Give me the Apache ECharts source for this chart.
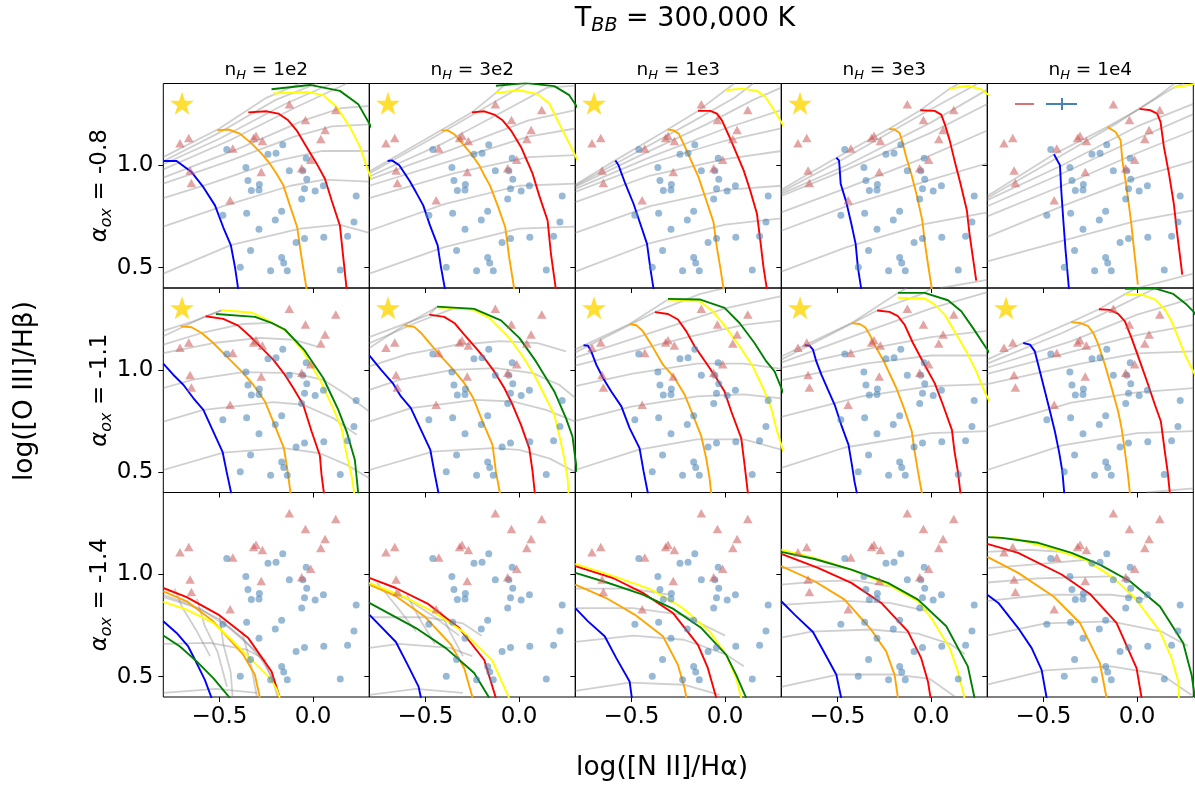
<!DOCTYPE html>
<html>
<head>
<meta charset="utf-8">
<script src="https://cdn.jsdelivr.net/npm/echarts@6/dist/echarts.min.js"></script>
<style>
  html, body { margin: 0; padding: 0; background: #fff; }
  #main { width: 1195px; height: 788px; }
</style>
</head>
<body>
<div id="main"></div>
<script>
// observed points, same in every panel
const circles = [
  [-0.461, 1.077], [-0.162, 1.100], [-0.241, 1.054], [-0.198, 1.059], [-0.037, 1.035],
  [-0.359, 0.989], [-0.127, 0.973], [-0.055, 0.973], [-0.034, 0.932], [-0.348, 0.926],
  [-0.287, 0.906], [-0.330, 0.877], [-0.289, 0.879], [-0.046, 0.885], [0.011, 0.874],
  [0.055, 0.900], [0.230, 0.850], [-0.061, 0.835], [-0.482, 0.756], [-0.355, 0.765],
  [-0.168, 0.775], [-0.202, 0.733], [0.218, 0.723], [-0.289, 0.687], [0.184, 0.653],
  [-0.091, 0.622], [-0.046, 0.642], [0.057, 0.648], [-0.334, 0.583], [-0.168, 0.549],
  [-0.157, 0.522], [-0.389, 0.501], [-0.227, 0.484], [-0.138, 0.484], [0.145, 0.488]
];
const triangles = [
  [-0.127, 1.298], [0.121, 1.270], [-0.041, 1.221], [0.064, 1.173], [0.041, 1.129],
  [-0.711, 1.108], [-0.664, 1.134], [-0.305, 1.144], [-0.318, 1.134], [-0.271, 1.119],
  [-0.429, 1.082], [-0.013, 1.027], [-0.061, 0.986], [-0.657, 0.975], [-0.277, 0.967],
  [-0.650, 0.913], [-0.443, 0.829]
];
const starPoint = [[-0.70, 1.303]];

const xTicks = [-0.5, 0.0];
const yTicks = [0.5, 1.0];
const colTitles = ['1e2', '3e2', '1e3', '3e3', '1e4'];
const rowTitles = ['-0.8', '-1.1', '-1.4'];

// ---- row 1 (alpha_ox = -0.8)
const gray11 = [
  [[-0.8, 1.04], [-0.5, 1.18], [-0.25, 1.33], [-0.07, 1.40]],
  [[-0.8, 1.02], [-0.5, 1.16], [-0.2, 1.32], [0.02, 1.40]],
  [[-0.8, 1.005], [-0.5, 1.13], [-0.15, 1.30], [0.1, 1.40]],
  [[-0.8, 0.98], [-0.45, 1.12], [-0.1, 1.28], [0.18, 1.40]],
  [[-0.8, 0.94], [-0.4, 1.08], [-0.05, 1.22], [0.15, 1.28], [0.3, 1.29]],
  [[-0.8, 0.91], [-0.45, 1.02], [-0.1, 1.14], [0.1, 1.19], [0.3, 1.20]],
  [[-0.8, 0.84], [-0.55, 0.91], [-0.2, 1.02], [0.05, 1.07], [0.3, 1.07]],
  [[-0.8, 0.70], [-0.48, 0.80], [-0.12, 0.90], [0.06, 0.93], [0.3, 0.92]],
  [[-0.8, 0.47], [-0.44, 0.61], [-0.07, 0.69], [0.14, 0.71], [0.3, 0.67]]
];
const blue11 = [[-0.8, 1.021], [-0.729, 1.021], [-0.649, 0.967], [-0.586, 0.893], [-0.524, 0.804], [-0.48, 0.697], [-0.439, 0.608], [-0.417, 0.501], [-0.4, 0.395]];
const orange11 = [[-0.512, 1.171], [-0.453, 1.175], [-0.391, 1.155], [-0.328, 1.106], [-0.275, 1.057], [-0.231, 1.008], [-0.195, 0.959], [-0.159, 0.902], [-0.124, 0.804], [-0.085, 0.697], [-0.062, 0.55], [-0.035, 0.395]];
const red11 = [[-0.346, 1.259], [-0.248, 1.264], [-0.186, 1.253], [-0.133, 1.22], [-0.088, 1.171], [-0.035, 1.09], [0.019, 1.008], [0.063, 0.934], [0.099, 0.828], [0.143, 0.706], [0.161, 0.55], [0.179, 0.395]];
const yellow11 = [[-0.213, 1.351], [-0.035, 1.359], [0.054, 1.343], [0.125, 1.286], [0.196, 1.188], [0.25, 1.09], [0.294, 0.975], [0.321, 0.91]];
const green11 = [[-0.222, 1.372], [-0.017, 1.393], [0.143, 1.364], [0.241, 1.299], [0.3, 1.204], [0.339, 1.139]];

const gray12 = [
  [[-0.8, 0.97], [-0.702, 1.021], [-0.417, 1.171], [-0.252, 1.259], [-0.124, 1.354], [-0.07, 1.40]],
  [[-0.8, 0.96], [-0.45, 1.14], [-0.15, 1.30], [0.04, 1.40]],
  [[-0.8, 0.945], [-0.4, 1.11], [-0.05, 1.28], [0.15, 1.38], [0.3, 1.39]],
  [[-0.8, 0.93], [-0.35, 1.08], [0.05, 1.22], [0.3, 1.27]],
  [[-0.8, 0.90], [-0.3, 1.04], [0.05, 1.14], [0.3, 1.18]],
  [[-0.8, 0.84], [-0.35, 0.96], [0.05, 1.04], [0.3, 1.05]],
  [[-0.8, 0.68], [-0.4, 0.81], [0.0, 0.90], [0.3, 0.91]],
  [[-0.8, 0.47], [-0.4, 0.60], [0.0, 0.69], [0.3, 0.70]]
];
const blue12 = [[-0.702, 1.021], [-0.679, 1.024], [-0.64, 1.0], [-0.586, 0.926], [-0.551, 0.869], [-0.512, 0.804], [-0.476, 0.706], [-0.435, 0.608], [-0.417, 0.501], [-0.396, 0.395]];
const orange12 = [[-0.417, 1.171], [-0.382, 1.171], [-0.346, 1.152], [-0.302, 1.106], [-0.257, 1.057], [-0.213, 1.0], [-0.186, 0.951], [-0.156, 0.902], [-0.115, 0.804], [-0.074, 0.697], [-0.053, 0.55], [-0.026, 0.395]];
const red12 = [[-0.252, 1.259], [-0.186, 1.264], [-0.133, 1.248], [-0.088, 1.22], [-0.044, 1.171], [0.01, 1.09], [0.072, 0.959], [0.107, 0.853], [0.152, 0.73], [0.17, 0.567], [0.196, 0.395]];
const yellow12 = [[-0.124, 1.354], [0.001, 1.367], [0.099, 1.348], [0.161, 1.302], [0.214, 1.204], [0.268, 1.106], [0.321, 1.008]];
const green12 = [[-0.124, 1.389], [0.036, 1.402], [0.188, 1.387], [0.268, 1.343], [0.321, 1.269]];

const gray13 = [
  [[-0.8, 0.905], [-0.586, 1.024], [-0.307, 1.175], [-0.145, 1.266], [0.001, 1.367], [0.05, 1.40]],
  [[-0.8, 0.90], [-0.5, 1.05], [-0.2, 1.20], [0.05, 1.33], [0.15, 1.40]],
  [[-0.8, 0.895], [-0.45, 1.05], [-0.1, 1.20], [0.15, 1.32], [0.3, 1.38]],
  [[-0.8, 0.885], [-0.4, 1.04], [0.0, 1.18], [0.3, 1.27]],
  [[-0.8, 0.87], [-0.4, 1.01], [0.0, 1.12], [0.3, 1.18]],
  [[-0.8, 0.82], [-0.4, 0.95], [0.0, 1.03], [0.3, 1.07]],
  [[-0.8, 0.67], [-0.4, 0.80], [0.0, 0.88], [0.3, 0.90]],
  [[-0.8, 0.48], [-0.4, 0.62], [0.0, 0.71], [0.3, 0.74]]
];
const blue13 = [[-0.586, 1.024], [-0.569, 1.0], [-0.533, 0.91], [-0.489, 0.812], [-0.453, 0.714], [-0.417, 0.616], [-0.4, 0.501], [-0.382, 0.395]];
const orange13 = [[-0.307, 1.175], [-0.275, 1.171], [-0.248, 1.155], [-0.222, 1.106], [-0.186, 1.032], [-0.142, 0.942], [-0.106, 0.844], [-0.062, 0.722], [-0.044, 0.599], [-0.026, 0.501], [-0.008, 0.395]];
const red13 = [[-0.145, 1.266], [-0.079, 1.266], [-0.044, 1.253], [-0.017, 1.22], [0.019, 1.147], [0.054, 1.073], [0.099, 0.975], [0.134, 0.877], [0.17, 0.763], [0.188, 0.632], [0.205, 0.501], [0.223, 0.395]];
const yellow13 = [[0.001, 1.367], [0.09, 1.375], [0.17, 1.364], [0.214, 1.335], [0.25, 1.286], [0.3, 1.212], [0.33, 1.16]];
const green13 = [];

const gray14 = [
  [[-0.8, 0.88], [-0.506, 1.037], [-0.225, 1.178], [-0.058, 1.269], [0.099, 1.375], [0.15, 1.40]],
  [[-0.8, 0.87], [-0.49, 1.02], [-0.05, 1.25], [0.25, 1.40]],
  [[-0.8, 0.86], [-0.45, 1.00], [0.0, 1.21], [0.3, 1.37]],
  [[-0.8, 0.85], [-0.45, 0.98], [0.0, 1.16], [0.3, 1.30]],
  [[-0.8, 0.77], [-0.45, 0.89], [0.0, 1.05], [0.3, 1.17]],
  [[-0.8, 0.68], [-0.45, 0.80], [0.0, 0.93], [0.3, 1.01]],
  [[-0.8, 0.48], [-0.45, 0.60], [-0.05, 0.71], [0.3, 0.77]],
  [[0.05, 0.40], [0.3, 0.44]]
];
const blue14 = [[-0.506, 1.037], [-0.492, 1.024], [-0.489, 0.992], [-0.483, 0.91], [-0.453, 0.82], [-0.426, 0.714], [-0.403, 0.616], [-0.391, 0.501], [-0.373, 0.395]];
const orange14 = [[-0.225, 1.178], [-0.195, 1.175], [-0.168, 1.158], [-0.151, 1.106], [-0.133, 1.041], [-0.106, 0.959], [-0.074, 0.844], [-0.047, 0.73], [-0.035, 0.632], [-0.017, 0.518], [0.004, 0.395]];
const red14 = [[-0.058, 1.269], [0.019, 1.266], [0.054, 1.248], [0.072, 1.204], [0.099, 1.122], [0.125, 1.024], [0.157, 0.91], [0.191, 0.779], [0.205, 0.665], [0.223, 0.55], [0.241, 0.436]];
const yellow14 = [[0.099, 1.375], [0.196, 1.389], [0.268, 1.371], [0.321, 1.335]];
const green14 = [];

const gray15 = [
  [[-0.8, 0.85], [-0.444, 1.054], [-0.159, 1.188], [0.013, 1.276], [0.196, 1.38], [0.25, 1.40]],
  [[-0.8, 0.84], [-0.4, 1.05], [-0.1, 1.21], [0.1, 1.33], [0.2, 1.40]],
  [[-0.8, 0.83], [-0.4, 1.00], [0.0, 1.19], [0.3, 1.30]],
  [[-0.8, 0.80], [-0.4, 0.96], [0.0, 1.13], [0.3, 1.25]],
  [[-0.8, 0.75], [-0.4, 0.90], [0.0, 1.06], [0.3, 1.17]],
  [[-0.8, 0.65], [-0.4, 0.80], [0.0, 0.94], [0.3, 1.02]],
  [[-0.8, 0.53], [-0.4, 0.63], [0.0, 0.73], [0.3, 0.78]],
  [[0.0, 0.40], [0.3, 0.47]]
];
const blue15 = [[-0.444, 1.054], [-0.412, 1.0], [-0.405, 0.877], [-0.394, 0.73], [-0.382, 0.583], [-0.364, 0.395]];
const orange15 = [[-0.159, 1.188], [-0.115, 1.163], [-0.088, 1.122], [-0.079, 1.024], [-0.062, 0.926], [-0.047, 0.828], [-0.031, 0.714], [-0.014, 0.567], [0.004, 0.416]];
const red15 = [[0.013, 1.276], [0.072, 1.269], [0.107, 1.253], [0.125, 1.212], [0.143, 1.09], [0.17, 0.959], [0.196, 0.812], [0.214, 0.665], [0.232, 0.534], [0.241, 0.465]];
const yellow15 = [[0.196, 1.38], [0.25, 1.389], [0.321, 1.40]];
const green15 = [];

// ---- row 2 (alpha_ox = -1.1)
const gray21 = [
  [[-0.8, 1.19], [-0.64, 1.237], [-0.489, 1.291]],
  [[-0.8, 1.164], [-0.574, 1.262], [-0.489, 1.291]],
  [[-0.8, 1.123], [-0.595, 1.18], [-0.373, 1.224], [-0.231, 1.229]],
  [[-0.8, 1.082], [-0.533, 1.131], [-0.284, 1.156], [-0.106, 1.147], [0.019, 1.115]],
  [[-0.8, 0.911], [-0.64, 0.952], [-0.373, 0.989], [-0.106, 0.984], [0.054, 0.951], [0.179, 0.878], [0.3, 0.796]],
  [[-0.8, 0.747], [-0.586, 0.804], [-0.213, 0.842], [-0.053, 0.829], [0.107, 0.764], [0.232, 0.682]],
  [[-0.8, 0.51], [-0.48, 0.595], [-0.156, 0.617], [0.036, 0.592], [0.18, 0.535], [0.3, 0.47]]
];
const blue21 = [[-0.8, 1.03], [-0.747, 0.976], [-0.693, 0.927], [-0.64, 0.862], [-0.586, 0.804], [-0.533, 0.698], [-0.483, 0.597], [-0.462, 0.502], [-0.437, 0.395]];
const orange21 = [[-0.707, 1.213], [-0.649, 1.208], [-0.595, 1.18], [-0.533, 1.131], [-0.462, 1.066], [-0.382, 0.992], [-0.32, 0.927], [-0.257, 0.845], [-0.213, 0.747], [-0.156, 0.617], [-0.136, 0.502], [-0.12, 0.395]];
const red21 = [[-0.574, 1.262], [-0.48, 1.249], [-0.4, 1.216], [-0.337, 1.164], [-0.266, 1.099], [-0.213, 1.05], [-0.151, 0.976], [-0.106, 0.911], [-0.053, 0.829], [-0.008, 0.698], [0.036, 0.581], [0.045, 0.486], [0.058, 0.395]];
const yellow21 = [[-0.489, 1.291], [-0.328, 1.28], [-0.248, 1.246], [-0.142, 1.188], [-0.053, 1.09], [0.036, 0.951], [0.107, 0.813], [0.152, 0.714], [0.179, 0.584], [0.205, 0.486], [0.22, 0.395]];
const green21 = [[-0.519, 1.273], [-0.31, 1.259], [-0.222, 1.229], [-0.151, 1.197], [-0.049, 1.099], [0.054, 0.96], [0.134, 0.805], [0.179, 0.698], [0.223, 0.559], [0.241, 0.395]];

const gray22 = [
  [[-0.8, 1.16], [-0.48, 1.27], [-0.44, 1.306]],
  [[-0.8, 1.13], [-0.55, 1.23], [-0.35, 1.30], [-0.25, 1.30]],
  [[-0.8, 1.107], [-0.613, 1.218], [-0.44, 1.306]],
  [[-0.8, 1.017], [-0.6, 1.075], [-0.35, 1.12], [-0.1, 1.14], [0.1, 1.13], [0.25, 1.09]],
  [[-0.8, 0.902], [-0.64, 0.951], [-0.355, 1.0], [-0.124, 1.008], [0.072, 0.984], [0.214, 0.927], [0.3, 0.862]],
  [[-0.8, 0.747], [-0.578, 0.813], [-0.231, 0.853], [-0.035, 0.845], [0.143, 0.804], [0.3, 0.747]],
  [[-0.8, 0.51], [-0.462, 0.6], [-0.142, 0.617], [0.001, 0.608], [0.161, 0.567], [0.3, 0.5]]
];
const blue22 = [[-0.8, 1.071], [-0.738, 1.001], [-0.675, 0.935], [-0.631, 0.87], [-0.578, 0.813], [-0.524, 0.706], [-0.474, 0.608], [-0.453, 0.502], [-0.43, 0.395]];
const orange22 = [[-0.613, 1.218], [-0.56, 1.21], [-0.524, 1.18], [-0.471, 1.123], [-0.417, 1.066], [-0.352, 1.001], [-0.293, 0.935], [-0.245, 0.862], [-0.195, 0.747], [-0.142, 0.633], [-0.124, 0.502], [-0.102, 0.395]];
const red22 = [[-0.48, 1.27], [-0.4, 1.259], [-0.346, 1.229], [-0.293, 1.172], [-0.231, 1.107], [-0.186, 1.058], [-0.133, 0.992], [-0.079, 0.911], [-0.035, 0.829], [0.01, 0.731], [0.054, 0.617], [0.072, 0.502], [0.084, 0.395]];
const yellow22 = [[-0.439, 1.306], [-0.248, 1.295], [-0.159, 1.254], [-0.053, 1.156], [0.019, 1.066], [0.09, 0.96], [0.143, 0.862], [0.188, 0.78], [0.214, 0.682], [0.241, 0.567], [0.259, 0.469], [0.264, 0.395]];
const green22 = [[-0.439, 1.309], [-0.24, 1.298], [-0.097, 1.242], [0.001, 1.156], [0.09, 1.041], [0.188, 0.894], [0.25, 0.764], [0.285, 0.674], [0.3, 0.567], [0.31, 0.5]];

const gray23 = [
  [[-0.8, 1.10], [-0.51, 1.224], [-0.305, 1.344]],
  [[-0.8, 1.085], [-0.375, 1.282], [-0.136, 1.37], [0.0, 1.40]],
  [[-0.8, 1.06], [-0.3, 1.21], [0.0, 1.30], [0.3, 1.36]],
  [[-0.8, 1.02], [-0.2, 1.16], [0.1, 1.22], [0.3, 1.24]],
  [[-0.8, 0.92], [-0.5, 0.98], [-0.15, 1.03], [0.1, 1.03], [0.3, 1.005]],
  [[-0.8, 0.75], [-0.5, 0.82], [-0.15, 0.87], [0.1, 0.88], [0.3, 0.86]],
  [[-0.8, 0.51], [-0.46, 0.61], [-0.15, 0.66], [0.1, 0.66], [0.3, 0.61]]
];
const blue23 = [[-0.756, 1.12], [-0.732, 1.118], [-0.715, 1.09], [-0.688, 1.025], [-0.652, 0.96], [-0.608, 0.894], [-0.554, 0.821], [-0.51, 0.715], [-0.457, 0.617], [-0.435, 0.502], [-0.412, 0.395]];
const orange23 = [[-0.51, 1.224], [-0.474, 1.218], [-0.439, 1.189], [-0.394, 1.123], [-0.332, 1.025], [-0.27, 0.96], [-0.216, 0.878], [-0.172, 0.78], [-0.127, 0.674], [-0.101, 0.567], [-0.083, 0.469], [-0.074, 0.395]];
const red23 = [[-0.375, 1.282], [-0.305, 1.273], [-0.252, 1.246], [-0.207, 1.188], [-0.163, 1.115], [-0.101, 1.033], [-0.047, 0.96], [-0.003, 0.894], [0.033, 0.796], [0.086, 0.666], [0.104, 0.535], [0.122, 0.395]];
const yellow23 = [[-0.305, 1.344], [-0.136, 1.335], [-0.065, 1.286], [0.006, 1.205], [0.077, 1.115], [0.148, 1.017], [0.211, 0.894], [0.246, 0.813], [0.273, 0.714], [0.3, 0.633], [0.31, 0.6]];
const green23 = [[-0.305, 1.347], [-0.136, 1.344], [-0.003, 1.303], [0.077, 1.229], [0.157, 1.131], [0.22, 1.041], [0.264, 0.992], [0.3, 0.911], [0.32, 0.87]];

const gray24 = [
  [[-0.8, 1.065], [-0.675, 1.12], [-0.426, 1.228], [-0.177, 1.376], [-0.13, 1.40]],
  [[-0.8, 1.05], [-0.288, 1.29], [-0.035, 1.376], [0.0, 1.40]],
  [[-0.8, 1.035], [-0.4, 1.17], [0.0, 1.30], [0.3, 1.38]],
  [[-0.8, 1.01], [-0.35, 1.10], [0.0, 1.16], [0.3, 1.19]],
  [[-0.8, 0.95], [-0.35, 1.03], [0.0, 1.07], [0.3, 1.07]],
  [[-0.8, 0.77], [-0.37, 0.87], [0.0, 0.92], [0.3, 0.93]],
  [[-0.8, 0.52], [-0.46, 0.62], [0.0, 0.69], [0.3, 0.70]]
];
const blue24 = [[-0.675, 1.12], [-0.649, 1.118], [-0.631, 1.099], [-0.613, 1.041], [-0.586, 0.976], [-0.551, 0.903], [-0.515, 0.829], [-0.48, 0.731], [-0.441, 0.633], [-0.423, 0.535], [-0.409, 0.453], [-0.396, 0.395]];
const orange24 = [[-0.426, 1.228], [-0.382, 1.224], [-0.352, 1.208], [-0.328, 1.172], [-0.302, 1.123], [-0.248, 1.033], [-0.186, 0.911], [-0.142, 0.805], [-0.103, 0.698], [-0.088, 0.6], [-0.07, 0.502], [-0.049, 0.395]];
const red24 = [[-0.288, 1.29], [-0.222, 1.283], [-0.177, 1.262], [-0.142, 1.221], [-0.097, 1.131], [-0.035, 1.025], [0.019, 0.935], [0.063, 0.829], [0.111, 0.706], [0.125, 0.6], [0.143, 0.502], [0.157, 0.395]];
const yellow24 = [[-0.177, 1.352], [-0.035, 1.349], [0.019, 1.319], [0.072, 1.27], [0.125, 1.188], [0.188, 1.09], [0.241, 0.992], [0.285, 0.894], [0.321, 0.829]];
const green24 = [[-0.177, 1.376], [-0.035, 1.376], [0.09, 1.34], [0.161, 1.286], [0.223, 1.205], [0.294, 1.107], [0.33, 1.058]];

const gray25 = [
  [[-0.8, 1.05], [-0.608, 1.131], [-0.353, 1.233], [-0.204, 1.296], [-0.065, 1.37], [0.0, 1.40]],
  [[-0.8, 1.03], [-0.4, 1.18], [-0.1, 1.31], [0.1, 1.40]],
  [[-0.8, 1.01], [-0.35, 1.14], [0.0, 1.27], [0.3, 1.35]],
  [[-0.8, 0.98], [-0.3, 1.10], [0.0, 1.17], [0.3, 1.22]],
  [[-0.8, 0.93], [-0.3, 1.03], [0.0, 1.08], [0.3, 1.09]],
  [[-0.8, 0.72], [-0.35, 0.84], [0.0, 0.89], [0.3, 0.91]],
  [[-0.8, 0.51], [-0.4, 0.63], [0.0, 0.69], [0.3, 0.70]],
  [[0.05, 0.40], [0.3, 0.42]]
];
const blue25 = [[-0.608, 1.131], [-0.572, 1.123], [-0.546, 1.09], [-0.519, 0.992], [-0.492, 0.894], [-0.465, 0.796], [-0.439, 0.698], [-0.417, 0.6], [-0.399, 0.502], [-0.389, 0.395]];
const orange25 = [[-0.353, 1.233], [-0.305, 1.229], [-0.261, 1.213], [-0.234, 1.18], [-0.207, 1.123], [-0.172, 1.025], [-0.136, 0.911], [-0.101, 0.796], [-0.083, 0.715], [-0.065, 0.6], [-0.051, 0.502], [-0.038, 0.395]];
const red25 = [[-0.204, 1.296], [-0.145, 1.293], [-0.101, 1.273], [-0.065, 1.237], [-0.03, 1.156], [0.015, 1.041], [0.059, 0.927], [0.095, 0.829], [0.127, 0.747], [0.148, 0.6], [0.163, 0.502], [0.175, 0.395]];
const yellow25 = [[-0.065, 1.368], [0.024, 1.368], [0.095, 1.344], [0.148, 1.295], [0.184, 1.237], [0.22, 1.156], [0.255, 1.074], [0.291, 1.009], [0.326, 0.943]];
const green25 = [[-0.065, 1.396], [0.095, 1.398], [0.193, 1.371], [0.264, 1.319], [0.3, 1.286], [0.335, 1.237]];

// ---- row 3 (alpha_ox = -1.4)
const gray31 = [
  [[-0.8, 0.90], [-0.65, 0.85], [-0.5, 0.78], [-0.38, 0.69], [-0.26, 0.57], [-0.2, 0.45]],
  [[-0.8, 0.89], [-0.6, 0.83], [-0.45, 0.74], [-0.3, 0.62], [-0.22, 0.5], [-0.19, 0.40]],
  [[-0.8, 0.66], [-0.55, 0.665], [-0.35, 0.63], [-0.25, 0.58]],
  [[-0.8, 0.42], [-0.52, 0.44], [-0.3, 0.42]],
  [[-0.74, 0.93], [-0.7, 0.84], [-0.62, 0.72], [-0.55, 0.60]],
  [[-0.62, 0.88], [-0.58, 0.75], [-0.51, 0.62], [-0.46, 0.45]],
  [[-0.5, 0.80], [-0.48, 0.66], [-0.44, 0.52], [-0.43, 0.40]],
  [[-0.38, 0.72], [-0.33, 0.55], [-0.3, 0.40]]
];
const blue31 = [[-0.8, 0.77], [-0.729, 0.713], [-0.667, 0.647], [-0.622, 0.566], [-0.578, 0.484], [-0.542, 0.395]];
const orange31 = [[-0.8, 0.917], [-0.675, 0.868], [-0.533, 0.77], [-0.453, 0.688], [-0.373, 0.607], [-0.311, 0.509], [-0.284, 0.395]];
const red31 = [[-0.8, 0.933], [-0.675, 0.888], [-0.506, 0.803], [-0.346, 0.688], [-0.222, 0.525], [-0.177, 0.395]];
const yellow31 = [[-0.8, 0.865], [-0.675, 0.827], [-0.533, 0.762], [-0.435, 0.68], [-0.338, 0.59], [-0.231, 0.492], [-0.195, 0.44], [-0.177, 0.395]];
const green31 = [[-0.8, 0.701], [-0.711, 0.647], [-0.622, 0.574], [-0.533, 0.492], [-0.444, 0.395]];

const gray32 = [
  [[-0.8, 0.79], [-0.5, 0.79], [-0.3, 0.76], [-0.2, 0.70]],
  [[-0.8, 0.64], [-0.64, 0.66], [-0.37, 0.64], [-0.25, 0.60]],
  [[-0.8, 0.41], [-0.55, 0.44], [-0.3, 0.42]],
  [[-0.76, 0.96], [-0.66, 0.85], [-0.55, 0.72]],
  [[-0.6, 0.9], [-0.53, 0.78], [-0.45, 0.66]],
  [[-0.42, 0.82], [-0.37, 0.72], [-0.3, 0.60]],
  [[-0.8, 0.95], [-0.6, 0.88], [-0.45, 0.79], [-0.32, 0.70]]
];
const blue32 = [[-0.8, 0.803], [-0.658, 0.669], [-0.595, 0.557], [-0.537, 0.451], [-0.524, 0.395]];
const orange32 = [[-0.8, 0.95], [-0.658, 0.893], [-0.506, 0.795], [-0.364, 0.656], [-0.293, 0.541], [-0.248, 0.395]];
const red32 = [[-0.8, 0.982], [-0.658, 0.933], [-0.489, 0.857], [-0.32, 0.737], [-0.186, 0.581], [-0.124, 0.395]];
const yellow32 = [[-0.8, 0.958], [-0.622, 0.893], [-0.462, 0.819], [-0.302, 0.721], [-0.145, 0.581], [-0.053, 0.395]];
const green32 = [[-0.8, 0.86], [-0.684, 0.803], [-0.551, 0.737], [-0.391, 0.639], [-0.24, 0.517], [-0.159, 0.395]];

const gray33 = [
  [[-0.8, 0.93], [-0.5, 0.93], [-0.3, 0.90]],
  [[-0.8, 0.835], [-0.49, 0.835], [-0.22, 0.80], [0.0, 0.70]],
  [[-0.8, 0.67], [-0.49, 0.70], [-0.22, 0.68], [0.0, 0.61], [0.1, 0.55]],
  [[-0.8, 0.43], [-0.51, 0.47], [-0.22, 0.46], [-0.03, 0.41]]
];
const blue33 = [[-0.8, 0.835], [-0.732, 0.77], [-0.643, 0.697], [-0.581, 0.59], [-0.51, 0.476], [-0.498, 0.395]];
const orange33 = [[-0.8, 0.95], [-0.635, 0.884], [-0.483, 0.803], [-0.332, 0.697], [-0.252, 0.557], [-0.216, 0.443], [-0.207, 0.395]];
const red33 = [[-0.8, 1.04], [-0.599, 0.982], [-0.439, 0.909], [-0.279, 0.811], [-0.145, 0.655], [-0.092, 0.541], [-0.047, 0.395]];
const yellow33 = [[-0.8, 1.051], [-0.581, 0.986], [-0.394, 0.925], [-0.234, 0.84], [-0.083, 0.721], [0.006, 0.606], [0.059, 0.492], [0.086, 0.395]];
const green33 = [[-0.8, 1.007], [-0.635, 0.961], [-0.439, 0.901], [-0.279, 0.832], [-0.127, 0.737], [0.006, 0.606], [0.059, 0.508], [0.113, 0.395]];

const gray34 = [
  [[-0.8, 1.03], [-0.6, 1.04], [-0.45, 1.03]],
  [[-0.8, 0.95], [-0.6, 0.965], [-0.4, 0.97], [-0.22, 0.94]],
  [[-0.8, 0.85], [-0.46, 0.87], [-0.22, 0.86], [-0.02, 0.82]],
  [[-0.8, 0.69], [-0.64, 0.72], [-0.32, 0.73], [-0.07, 0.71], [0.1, 0.66], [0.18, 0.61]],
  [[-0.8, 0.45], [-0.5, 0.51], [-0.2, 0.51], [-0.01, 0.49], [0.13, 0.40]]
];
const blue34 = [[-0.8, 0.868], [-0.729, 0.803], [-0.631, 0.718], [-0.569, 0.615], [-0.506, 0.509], [-0.48, 0.395]];
const orange34 = [[-0.8, 1.04], [-0.622, 0.966], [-0.462, 0.876], [-0.32, 0.729], [-0.24, 0.623], [-0.195, 0.508], [-0.177, 0.395]];
const red34 = [[-0.8, 1.1], [-0.604, 1.031], [-0.426, 0.958], [-0.266, 0.86], [-0.124, 0.721], [-0.053, 0.59], [-0.017, 0.476], [-0.003, 0.395]];
const yellow34 = [[-0.8, 1.121], [-0.622, 1.08], [-0.426, 1.023], [-0.231, 0.95], [-0.07, 0.868], [0.001, 0.786], [0.099, 0.639], [0.143, 0.524], [0.179, 0.395]];
const green34 = [[-0.8, 1.11], [-0.622, 1.075], [-0.426, 1.023], [-0.231, 0.958], [-0.07, 0.876], [0.081, 0.746], [0.196, 0.55], [0.232, 0.395]];

const gray35 = [
  [[-0.8, 1.11], [-0.58, 1.12], [-0.4, 1.11]],
  [[-0.8, 1.03], [-0.53, 1.05], [-0.28, 1.07]],
  [[-0.8, 0.96], [-0.53, 0.98], [-0.14, 0.99]],
  [[-0.8, 0.87], [-0.49, 0.90], [-0.14, 0.90], [0.04, 0.88]],
  [[-0.8, 0.70], [-0.49, 0.76], [-0.14, 0.77], [0.13, 0.72], [0.27, 0.65]],
  [[-0.8, 0.46], [-0.49, 0.53], [-0.14, 0.55], [0.13, 0.51], [0.29, 0.41]]
];
const blue35 = [[-0.8, 0.9], [-0.741, 0.86], [-0.635, 0.737], [-0.563, 0.639], [-0.51, 0.533], [-0.483, 0.395]];
const orange35 = [[-0.8, 1.085], [-0.635, 1.007], [-0.448, 0.893], [-0.305, 0.762], [-0.199, 0.566], [-0.163, 0.395]];
const red35 = [[-0.8, 1.149], [-0.635, 1.105], [-0.403, 0.999], [-0.252, 0.904], [-0.11, 0.762], [-0.003, 0.541], [0.024, 0.395]];
const yellow35 = [[-0.777, 1.183], [-0.635, 1.17], [-0.439, 1.121], [-0.279, 1.072], [-0.136, 0.99], [-0.012, 0.884], [0.122, 0.721], [0.184, 0.59], [0.22, 0.476], [0.223, 0.395]];
const green35 = [[-0.8, 1.182], [-0.723, 1.178], [-0.528, 1.154], [-0.35, 1.105], [-0.199, 1.047], [-0.038, 0.966], [0.122, 0.843], [0.246, 0.664], [0.291, 0.508], [0.309, 0.395]];

// panel table: [gray, blue, orange, red, yellow, green]
const panels = [
  [gray11, blue11, orange11, red11, yellow11, green11],
  [gray12, blue12, orange12, red12, yellow12, green12],
  [gray13, blue13, orange13, red13, yellow13, green13],
  [gray14, blue14, orange14, red14, yellow14, green14],
  [gray15, blue15, orange15, red15, yellow15, green15],
  [gray21, blue21, orange21, red21, yellow21, green21],
  [gray22, blue22, orange22, red22, yellow22, green22],
  [gray23, blue23, orange23, red23, yellow23, green23],
  [gray24, blue24, orange24, red24, yellow24, green24],
  [gray25, blue25, orange25, red25, yellow25, green25],
  [gray31, blue31, orange31, red31, yellow31, green31],
  [gray32, blue32, orange32, red32, yellow32, green32],
  [gray33, blue33, orange33, red33, yellow33, green33],
  [gray34, blue34, orange34, red34, yellow34, green34],
  [gray35, blue35, orange35, red35, yellow35, green35]
];
const lineColors = ['#0000ff', '#ffa500', '#ff0000', '#ffff00', '#008000'];

const FONT = 'DejaVu Sans';
const left0 = 163.3, top0 = 83.5, cellW = 206, cellH = 204.5;
const starPath = 'path://M50,0 L61.8,35.1 L98.1,35.1 L68.8,56.8 L79.4,91.2 L50,70 L20.6,91.2 L31.2,56.8 L1.9,35.1 L38.2,35.1 Z';
const fmt = v => v.toFixed(1).replace('-', '\u2212');

const grids = [], xAxes = [], yAxes = [], series = [];

panels.forEach((p, i) => {
  const r = Math.floor(i / 5), c = i % 5;
  grids.push({
    left: left0 + c * cellW, top: top0 + r * cellH, width: cellW, height: cellH,
    show: true, borderColor: '#000', borderWidth: 1, backgroundColor: 'transparent'
  });
  xAxes.push({
    type: 'value', gridIndex: i, min: -0.8, max: 0.3, position: 'bottom',
    axisLine: { show: false, onZero: false },
    axisTick: { show: true, customValues: xTicks, length: 5, lineStyle: { color: '#000', width: 1 } },
    axisLabel: { show: r === 2, customValues: xTicks, formatter: fmt, margin: 9, color: '#000', fontSize: 23, fontFamily: FONT },
    splitLine: { show: false }
  });
  yAxes.push({
    type: 'value', gridIndex: i, min: 0.4, max: 1.4, position: 'left',
    axisLine: { show: false, onZero: false },
    axisTick: { show: true, customValues: yTicks, length: 5, lineStyle: { color: '#000', width: 1 } },
    axisLabel: { show: c === 0, customValues: yTicks, formatter: fmt, margin: 10, color: '#000', fontSize: 23, fontFamily: FONT },
    splitLine: { show: false }
  });

  p[0].forEach(g => series.push({
    type: 'line', xAxisIndex: i, yAxisIndex: i, data: g, symbol: 'none', silent: true, z: 1,
    lineStyle: { color: 'rgba(135,135,135,0.4)', width: 1.8 }
  }));
  for (let k = 1; k <= 5; k++) {
    if (!p[k].length) continue;
    series.push({
      type: 'line', xAxisIndex: i, yAxisIndex: i, data: p[k], symbol: 'none', silent: true, z: 2,
      lineStyle: { color: lineColors[k - 1], width: 1.9 }
    });
  }
  series.push({
    type: 'scatter', xAxisIndex: i, yAxisIndex: i, data: circles, symbol: 'circle', symbolSize: 7,
    silent: true, z: 3, itemStyle: { color: 'rgba(70,130,180,0.7)' }
  });
  series.push({
    type: 'scatter', xAxisIndex: i, yAxisIndex: i, data: triangles, symbol: 'triangle', symbolSize: [9.5, 8.5],
    silent: true, z: 3, itemStyle: { color: 'rgba(205,92,92,0.7)' }
  });
  if (r < 2 && !(r === 0 && c === 4)) {
    series.push({
      type: 'scatter', xAxisIndex: i, yAxisIndex: i, data: starPoint, symbol: starPath, symbolSize: [24, 23],
      silent: true, z: 4, itemStyle: { color: '#ffd700' }
    });
  }
});

const texts = [];
texts.push({
  type: 'text', x: 685, y: 19,
  style: {
    text: '{a|T}{s|BB}{a| = 300,000 K}', align: 'center', verticalAlign: 'middle',
    rich: {
      a: { fontSize: 27, fontFamily: FONT, color: '#000', lineHeight: 34, verticalAlign: 'middle' },
      s: { fontSize: 19, fontFamily: FONT, fontStyle: 'italic', color: '#000', lineHeight: 34, verticalAlign: 'bottom' }
    }
  }
});
colTitles.forEach((t, c) => texts.push({
  type: 'text', x: left0 + c * cellW + cellW / 2, y: 70,
  style: {
    text: '{a|n}{s|H}{a| = ' + t + '}', align: 'center', verticalAlign: 'middle',
    rich: {
      a: { fontSize: 18.5, fontFamily: FONT, color: '#000', lineHeight: 24, verticalAlign: 'middle' },
      s: { fontSize: 13, fontFamily: FONT, fontStyle: 'italic', color: '#000', lineHeight: 24, verticalAlign: 'bottom' }
    }
  }
}));
rowTitles.forEach((t, r) => texts.push({
  type: 'text', x: 100, y: top0 + r * cellH + cellH / 2, rotation: Math.PI / 2,
  style: {
    text: '{g|\u03b1}{s|ox}{a| = ' + t + '}', align: 'center', verticalAlign: 'middle',
    rich: {
      g: { fontSize: 23, fontFamily: FONT, fontStyle: 'italic', color: '#000', lineHeight: 30, verticalAlign: 'middle' },
      a: { fontSize: 23, fontFamily: FONT, color: '#000', lineHeight: 30, verticalAlign: 'middle' },
      s: { fontSize: 16, fontFamily: FONT, fontStyle: 'italic', color: '#000', lineHeight: 30, verticalAlign: 'bottom' }
    }
  }
}));
texts.push({
  type: 'text', x: 662, y: 768,
  style: { text: 'log([N II]/H\u03b1)', align: 'center', verticalAlign: 'middle', fontSize: 26.5, fontFamily: FONT, fill: '#000' }
});
texts.push({
  type: 'text', x: 25, y: 391, rotation: Math.PI / 2,
  style: { text: 'log([O III]/H\u03b2)', align: 'center', verticalAlign: 'middle', fontSize: 26.5, fontFamily: FONT, fill: '#000' }
});
// empty legend handles in the top-right panel
texts.push({ type: 'line', shape: { x1: 1015, y1: 104, x2: 1034, y2: 104 }, style: { stroke: 'rgba(205,92,92,0.85)', lineWidth: 2 } });
texts.push({ type: 'line', shape: { x1: 1046, y1: 104, x2: 1077, y2: 104 }, style: { stroke: '#4682b4', lineWidth: 2 } });
texts.push({ type: 'line', shape: { x1: 1062, y1: 98, x2: 1062, y2: 110 }, style: { stroke: '#4682b4', lineWidth: 2 } });

const chart = echarts.init(document.getElementById('main'));
chart.setOption({
  animation: false,
  backgroundColor: '#fff',
  grid: grids,
  xAxis: xAxes,
  yAxis: yAxes,
  series: series,
  graphic: texts
});
</script>
</body>
</html>
